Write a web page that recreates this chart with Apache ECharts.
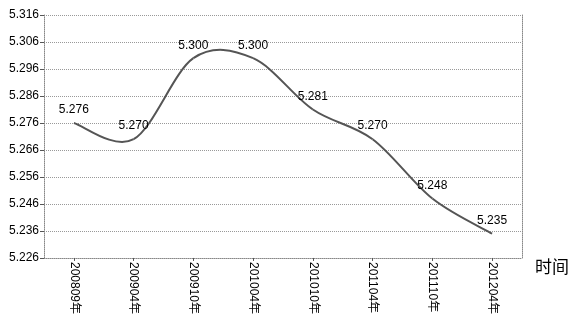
<!DOCTYPE html>
<html>
<head>
<meta charset="utf-8">
<script src="https://cdn.jsdelivr.net/npm/echarts@6/dist/echarts.min.js"></script>
<style>
  html, body { margin: 0; padding: 0; background: #fff; }
  #chart { width: 573px; height: 317px; }
</style>
</head>
<body>
<div id="chart"></div>
<script>
// 时间
var categories = ["200809年", "200904年", "200910年", "201004年", "201010年", "201104年", "201110年", "201204年"];
var values = [5.276, 5.270, 5.300, 5.300, 5.281, 5.270, 5.248, 5.235];
var yMin = 5.226;
var yMax = 5.316;
var yStep = 0.01;

var chart = echarts.init(document.getElementById("chart"));
var font = "'Liberation Sans', 'Noto Sans CJK SC', sans-serif";

// excel-like smooth curve (catmull-rom) through the data points
function renderCurve(params, api) {
  var pts = values.map(function (v, i) { return api.coord([i, v]); });
  var segs = [];
  for (var i = 0; i < pts.length - 1; i++) {
    var p0 = pts[i > 0 ? i - 1 : i];
    var p1 = pts[i];
    var p2 = pts[i + 1];
    var p3 = pts[i + 2 < pts.length ? i + 2 : i + 1];
    segs.push({
      type: "bezierCurve",
      shape: {
        x1: p1[0], y1: p1[1],
        x2: p2[0], y2: p2[1],
        cpx1: p1[0] + (p2[0] - p0[0]) / 6,
        cpy1: p1[1] + (p2[1] - p0[1]) / 6,
        cpx2: p2[0] - (p3[0] - p1[0]) / 6,
        cpy2: p2[1] - (p3[1] - p1[1]) / 6
      },
      style: { fill: null, stroke: "#555", lineWidth: 2 }
    });
  }
  return { type: "group", children: segs };
}

chart.setOption({
  animation: false,
  grid: { left: 44, right: 51, top: 15, bottom: 58, containLabel: false },
  xAxis: {
    type: "category",
    data: categories,
    boundaryGap: true,
    name: "时间",
    nameLocation: "end",
    nameGap: 13,
    nameTextStyle: { fontSize: 17, color: "#000", fontFamily: font, align: "left", verticalAlign: "top", padding: [2, 0, 0, 0] },
    axisLine: { lineStyle: { color: "#888", type: "dotted", width: 1 } },
    axisTick: { show: true, alignWithLabel: true, length: 3, lineStyle: { color: "#555" } },
    axisLabel: {
      rotate: -90,
      interval: 0,
      fontSize: 12,
      color: "#000",
      fontFamily: font,
      margin: 4
    },
    splitLine: { show: false }
  },
  yAxis: [
    {
      type: "value",
      min: yMin,
      max: yMax,
      interval: yStep,
      axisLine: { show: true, lineStyle: { color: "#888", type: "dotted" } },
      axisTick: { show: true, length: 4, lineStyle: { color: "#555" } },
      axisLabel: {
        fontSize: 12,
        color: "#000",
        fontFamily: font,
        margin: 5,
        formatter: function (v) { return v.toFixed(3); }
      },
      splitLine: { show: true, lineStyle: { color: "#999", type: "dotted", width: 1 } }
    },
    {
      type: "value",
      position: "right",
      min: yMin,
      max: yMax,
      interval: yStep,
      axisLine: { show: true, lineStyle: { color: "#888", type: "dotted" } },
      axisTick: { show: false },
      axisLabel: { show: false },
      splitLine: { show: false }
    }
  ],
  series: [
    {
      type: "custom",
      coordinateSystem: "cartesian2d",
      data: [[0, values[0]]],
      renderItem: renderCurve,
      silent: true
    },
    {
      type: "line",
      data: values,
      symbol: "circle",
      symbolSize: 2,
      showSymbol: true,
      itemStyle: { color: "rgba(0,0,0,0)" },
      lineStyle: { width: 0, opacity: 0 },
      label: {
        show: true,
        position: "top",
        distance: 6,
        fontSize: 12,
        color: "#000",
        fontFamily: font,
        formatter: function (p) { return p.value.toFixed(3); }
      }
    }
  ]
});
</script>
</body>
</html>
